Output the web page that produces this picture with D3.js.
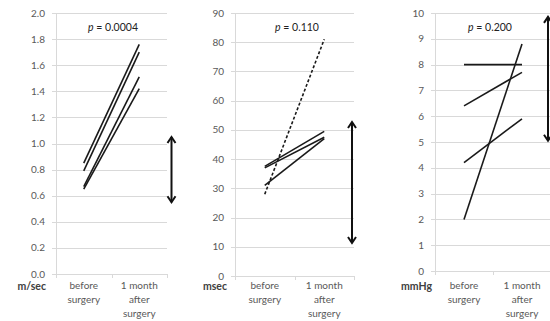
<!DOCTYPE html>
<html>
<head>
<meta charset="utf-8">
<script src="https://cdn.jsdelivr.net/npm/d3@7"></script>
<style>
  body { margin: 0; background: #fff; }
  text { font-family: Lato, "Open Sans", sans-serif; }
</style>
</head>
<body>
<div id="chart"></div>
<script>
// categorias del eje x
const categories = ['before surgery', '1 month after surgery'];

// panel 1: velocidad (m/sec)
const velBefore = [0.85, 0.79, 0.67, 0.65];
const velAfter = [1.76, 1.70, 1.51, 1.42];
const velTicks = [0, 0.2, 0.4, 0.6, 0.8, 1.0, 1.2, 1.4, 1.6, 1.8, 2.0];
const velArrow = [1.05, 0.55];

// panel 2: tiempo (msec) - la primera linea es punteada
const timeBefore = [28, 37.5, 37, 31];
const timeAfter = [81, 49.5, 47.5, 47];
const timeDashed = [true, false, false, false];
const timeTicks = [0, 10, 20, 30, 40, 50, 60, 70, 80, 90];
const timeArrow = [52.7, 11.3];

// panel 3: presion (mmHg)
const presBefore = [8, 6.4, 4.2, 2];
const presAfter = [8, 7.7, 5.9, 8.8];
const presTicks = [0, 1, 2, 3, 4, 5, 6, 7, 8, 9, 10];
const presArrow = [9.85, 5.05];

const pValues = ['0.0004', '0.110', '0.200'];
const units = ['m/sec', 'msec', 'mmHg'];

const width = 550, height = 321;

const svg = d3.select('#chart').append('svg')
  .attr('width', width)
  .attr('height', height);

function drawPanel(opts) {
  const g = svg.append('g');
  const x = d3.scaleBand().domain(categories).range([opts.left, opts.right]);
  const y = d3.scaleLinear().domain([0, d3.max(opts.ticks)]).range([opts.bottom, 13]);

  // lineas de la cuadricula
  g.selectAll('.grid')
    .data(opts.ticks)
    .enter().append('line')
    .attr('x1', opts.left - 4)
    .attr('x2', opts.gridRight)
    .attr('y1', d => Math.round(y(d)) + 0.5)
    .attr('y2', d => Math.round(y(d)) + 0.5)
    .attr('stroke', '#d9d9d9')
    .attr('stroke-width', 1);

  // eje y
  g.append('line')
    .attr('x1', opts.left + 0.5).attr('x2', opts.left + 0.5)
    .attr('y1', y(d3.max(opts.ticks))).attr('y2', opts.bottom)
    .attr('stroke', '#d9d9d9');

  g.selectAll('.ylab')
    .data(opts.ticks)
    .enter().append('text')
    .attr('x', opts.left - 11)
    .attr('y', d => y(d) + 3.5)
    .attr('text-anchor', 'end')
    .attr('font-size', 10)
    .attr('fill', '#595959')
    .text(d => opts.fmt(d));

  // marcas del eje x
  const xt = [opts.left, opts.left + x.bandwidth(), opts.right];
  g.selectAll('.xtick')
    .data(xt)
    .enter().append('line')
    .attr('x1', d => Math.round(d) + 0.5).attr('x2', d => Math.round(d) + 0.5)
    .attr('y1', opts.bottom).attr('y2', opts.bottom + 4)
    .attr('stroke', '#d9d9d9');

  // etiquetas de categorias
  const catLines = [['before', 'surgery'], ['1 month', 'after', 'surgery']];
  categories.forEach((c, i) => {
    const t = g.append('text')
      .attr('x', x(c) + x.bandwidth() / 2)
      .attr('y', 289)
      .attr('text-anchor', 'middle')
      .attr('font-size', 10)
      .attr('fill', '#595959');
    catLines[i].forEach((s, j) => {
      t.append('tspan')
        .attr('x', x(c) + x.bandwidth() / 2)
        .attr('dy', j === 0 ? 0 : 14)
        .text(s);
    });
  });

  // unidad
  g.append('text')
    .attr('x', opts.unitX)
    .attr('y', 290)
    .attr('text-anchor', 'end')
    .attr('font-size', 10.5)
    .attr('font-weight', 'bold')
    .attr('fill', '#404040')
    .text(opts.unit);

  // p valor
  const pt = g.append('text')
    .attr('x', opts.pX)
    .attr('y', 31)
    .attr('text-anchor', 'middle')
    .attr('font-size', 10.5)
    .attr('fill', '#222');
  pt.append('tspan').attr('font-style', 'italic').text('p');
  pt.append('tspan').text(' = ' + opts.p);

  // lineas de pacientes
  const cx0 = x(categories[0]) + x.bandwidth() / 2;
  const cx1 = x(categories[1]) + x.bandwidth() / 2;
  g.selectAll('.pair')
    .data(opts.before.map((b, i) => ({ b, a: opts.after[i], dashed: opts.dashed ? opts.dashed[i] : false })))
    .enter().append('line')
    .attr('x1', cx0).attr('x2', cx1)
    .attr('y1', d => y(d.b)).attr('y2', d => y(d.a))
    .attr('stroke', '#1a1a1a')
    .attr('stroke-width', 1.6)
    .attr('stroke-dasharray', d => d.dashed ? '3,2' : null);

  // flecha doble
  const ax = opts.arrowX;
  const yTop = y(opts.arrow[0]);
  const yBot = y(opts.arrow[1]);
  g.append('line')
    .attr('x1', ax).attr('x2', ax)
    .attr('y1', yTop).attr('y2', yBot)
    .attr('stroke', '#111')
    .attr('stroke-width', 2);
  g.append('path')
    .attr('d', `M${ax - 4},${yTop + 6} L${ax},${yTop} L${ax + 4},${yTop + 6}`
      + ` M${ax - 4},${yBot - 6} L${ax},${yBot} L${ax + 4},${yBot - 6}`)
    .attr('fill', 'none')
    .attr('stroke', '#111')
    .attr('stroke-width', 2);
}

drawPanel({
  left: 56, right: 167, gridRight: 167, bottom: 274,
  ticks: velTicks, fmt: d3.format('.1f'),
  before: velBefore, after: velAfter,
  arrow: velArrow, arrowX: 171.5,
  p: pValues[0], pX: 113, unit: units[0], unitX: 46
});

drawPanel({
  left: 235, right: 354, gridRight: 354, bottom: 276,
  ticks: timeTicks, fmt: d3.format('d'),
  before: timeBefore, after: timeAfter, dashed: timeDashed,
  arrow: timeArrow, arrowX: 352,
  p: pValues[1], pX: 297, unit: units[1], unitX: 227
});

drawPanel({
  left: 435, right: 551, gridRight: 550, bottom: 271,
  ticks: presTicks, fmt: d3.format('d'),
  before: presBefore, after: presAfter,
  arrow: presArrow, arrowX: 548,
  p: pValues[2], pX: 490, unit: units[2], unitX: 432
});
</script>
</body>
</html>
